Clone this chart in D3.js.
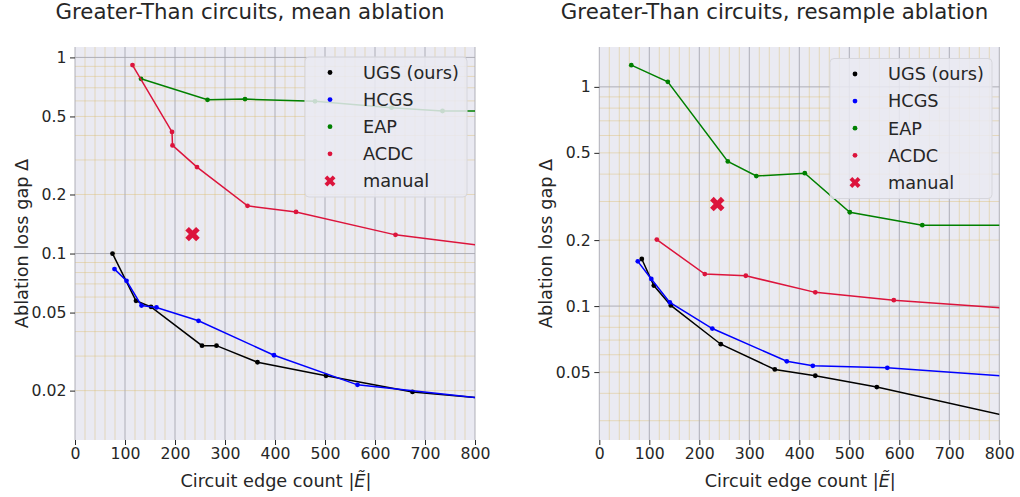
<!DOCTYPE html>
<html>
<head>
<meta charset="utf-8">
<script src="https://cdn.jsdelivr.net/npm/d3@7"></script>
<style>
  body { margin: 0; background: #fff; }
  text { font-family: "DejaVu Sans", sans-serif; fill: #262626; }
</style>
</head>
<body>
<script>
"use strict";

// ---- data ----
const methods = ["UGS (ours)", "HCGS", "EAP", "ACDC"];
const methodColors = ["black", "blue", "green", "crimson"];

// mean ablation (left panel): [edge count, ablation loss gap]
const meanUGS  = [[75, 0.1], [122, 0.0574], [152, 0.0535], [254, 0.0339], [283, 0.0339], [365, 0.0279], [502, 0.0238], [675, 0.0197], [900, 0.0175]];
const meanHCGS = [[79, 0.0833], [103, 0.0726], [133, 0.0543], [163, 0.0531], [247, 0.0454], [398, 0.0303], [565, 0.0214], [900, 0.0173]];
const meanEAP  = [[132, 0.778], [265, 0.608], [340, 0.613], [480, 0.597], [633, 0.554], [735, 0.533], [900, 0.534]];
const meanACDC = [[115, 0.914], [194, 0.417], [195, 0.356], [244, 0.276], [345, 0.175], [442, 0.163], [641, 0.1245], [900, 0.103]];
const meanManual = [235, 0.1256];

// resample ablation (right panel)
const resUGS  = [[85, 0.164], [109, 0.124], [143, 0.1007], [243, 0.067], [351, 0.0514], [432, 0.0481], [555, 0.0427], [900, 0.0285]];
const resHCGS = [[77, 0.160], [104, 0.133], [141, 0.104], [226, 0.079], [375, 0.056], [427, 0.0534], [576, 0.0523], [900, 0.0464]];
const resEAP  = [[64, 1.256], [137, 1.054], [257, 0.457], [314, 0.392], [411, 0.404], [501, 0.268], [646, 0.234], [900, 0.234]];
const resACDC = [[115, 0.201], [211, 0.140], [293, 0.1375], [432, 0.1155], [589, 0.1064], [900, 0.0946]];
const resManual = [236, 0.292];

const xTicks = [0, 100, 200, 300, 400, 500, 600, 700, 800];
const meanYTicks = [1, 0.5, 0.2, 0.1, 0.05, 0.02];
const resYTicks = [1, 0.5, 0.2, 0.1, 0.05];

const svg = d3.select("body").append("svg")
    .attr("width", 1020)
    .attr("height", 497);

function drawPanel(p) {
    const g = svg.append("g");
    const x = d3.scaleLinear().domain([0, 800]).range([p.left, p.right]);
    const y = d3.scaleLog().domain(p.yDomain).range([p.bottom, p.top]);

    g.append("rect")
        .attr("x", p.left).attr("y", p.top)
        .attr("width", p.right - p.left).attr("height", p.bottom - p.top)
        .attr("fill", "#eaeaf2");

    // minor grid (every 20 on x, 2..9 per decade on y)
    const minorX = d3.range(20, 800, 20).filter(d => d % 100 !== 0);
    const minorY = [];
    [0.01, 0.1, 1].forEach(dec => {
        for (let k = 2; k <= 9; k++) {
            const v = dec * k;
            if (v > p.yDomain[0] && v < p.yDomain[1]) minorY.push(v);
        }
    });
    g.selectAll(".mx").data(minorX).enter().append("line")
        .attr("x1", d => x(d)).attr("x2", d => x(d))
        .attr("y1", p.top).attr("y2", p.bottom)
        .attr("stroke", "#d8b45a").attr("stroke-opacity", 0.4).attr("stroke-width", 0.9);
    g.selectAll(".my").data(minorY).enter().append("line")
        .attr("y1", d => y(d)).attr("y2", d => y(d))
        .attr("x1", p.left).attr("x2", p.right)
        .attr("stroke", "#d8b45a").attr("stroke-opacity", 0.4).attr("stroke-width", 0.9);

    // major grid
    g.selectAll(".Mx").data(xTicks).enter().append("line")
        .attr("x1", d => x(d)).attr("x2", d => x(d))
        .attr("y1", p.top).attr("y2", p.bottom)
        .attr("stroke", "#a8a8b0").attr("stroke-width", 0.9);
    g.selectAll(".My").data([0.1, 1]).enter().append("line")
        .attr("y1", d => y(d)).attr("y2", d => y(d))
        .attr("x1", p.left).attr("x2", p.right)
        .attr("stroke", "#a8a8b0").attr("stroke-width", 0.9);

    // axes
    const xAxis = g.append("g")
        .attr("transform", `translate(0,${p.bottom})`)
        .call(d3.axisBottom(x).tickValues(xTicks).tickSize(5).tickPadding(3));
    const yAxis = g.append("g")
        .attr("transform", `translate(${p.left},0)`)
        .call(d3.axisLeft(y).tickValues(p.yTicks).tickFormat(d => String(d)).tickSize(5).tickPadding(3.5));
    [xAxis, yAxis].forEach(a => {
        a.select(".domain").remove();
        a.selectAll(".tick line").attr("stroke", "#262626");
        a.selectAll("text").attr("font-size", "15.7px").attr("fill", "#262626")
            .style("font-family", "DejaVu Sans");
    });

    // clip
    const clipId = "clip" + p.id;
    svg.append("clipPath").attr("id", clipId).append("rect")
        .attr("x", p.left).attr("y", p.top)
        .attr("width", p.right - p.left).attr("height", p.bottom - p.top);
    const plot = g.append("g").attr("clip-path", `url(#${clipId})`);

    const line = d3.line().x(d => x(d[0])).y(d => y(d[1]));
    p.series.forEach((s, i) => {
        plot.append("path")
            .attr("d", line(s))
            .attr("fill", "none")
            .attr("stroke", methodColors[i])
            .attr("stroke-width", 1.5);
        plot.selectAll(null).data(s).enter().append("circle")
            .attr("cx", d => x(d[0])).attr("cy", d => y(d[1]))
            .attr("r", 2.4)
            .attr("fill", methodColors[i]);
    });

    const xSym = d3.symbol().type(d3.symbolCross).size(130);
    plot.append("path")
        .attr("d", xSym())
        .attr("transform", `translate(${x(p.manual[0])},${y(p.manual[1])}) rotate(45)`)
        .attr("fill", "crimson");

    // legend
    const lg = g.append("g").attr("transform", `translate(${p.legend[0]},${p.legend[1]})`);
    lg.append("rect")
        .attr("width", 162).attr("height", 140).attr("rx", 4)
        .attr("fill", "#eaeaf2").attr("fill-opacity", 0.85)
        .attr("stroke", "#d6d6dc").attr("stroke-width", 1);
    const labels = methods.concat(["manual"]);
    labels.forEach((lab, i) => {
        const cy = 15.5 + i * 27.1;
        if (i < 4) {
            lg.append("circle").attr("cx", 25).attr("cy", cy).attr("r", 2.4)
                .attr("fill", methodColors[i]);
        } else {
            lg.append("path").attr("d", d3.symbol().type(d3.symbolCross).size(75)())
                .attr("transform", `translate(25,${cy}) rotate(45)`)
                .attr("fill", "crimson");
        }
        lg.append("text").attr("x", 58).attr("y", cy + 6.3)
            .attr("font-size", "17.7px").text(lab);
    });

    // title and labels
    svg.append("text")
        .attr("x", p.titleX).attr("y", 18.5)
        .attr("text-anchor", "middle")
        .attr("font-size", "21.3px")
        .text(p.title);

    const xl = svg.append("text")
        .attr("x", (p.left + p.right) / 2 + 1).attr("y", 486.5)
        .attr("text-anchor", "middle")
        .attr("font-size", "17.7px");
    xl.append("tspan").text("Circuit edge count |");
    xl.append("tspan").attr("font-style", "italic").text("Ẽ");
    xl.append("tspan").text("|");

    svg.append("text")
        .attr("transform", `translate(${p.yLabelX},${(p.top + p.bottom) / 2}) rotate(-90)`)
        .attr("text-anchor", "middle")
        .attr("font-size", "17.7px")
        .text("Ablation loss gap Δ");
}

drawPanel({
    id: "L",
    left: 75, right: 475, top: 47, bottom: 440,
    yDomain: [0.0112, 1.13],
    yTicks: meanYTicks,
    series: [meanUGS, meanHCGS, meanEAP, meanACDC],
    manual: meanManual,
    legend: [305, 57],
    title: "Greater-Than circuits, mean ablation",
    titleX: 250,
    yLabelX: 28
});

drawPanel({
    id: "R",
    left: 599.3, right: 999.3, top: 47, bottom: 440,
    yDomain: [0.0245, 1.52],
    yTicks: resYTicks,
    series: [resUGS, resHCGS, resEAP, resACDC],
    manual: resManual,
    legend: [830, 58.5],
    title: "Greater-Than circuits, resample ablation",
    titleX: 774.5,
    yLabelX: 552
});
</script>
</body>
</html>
